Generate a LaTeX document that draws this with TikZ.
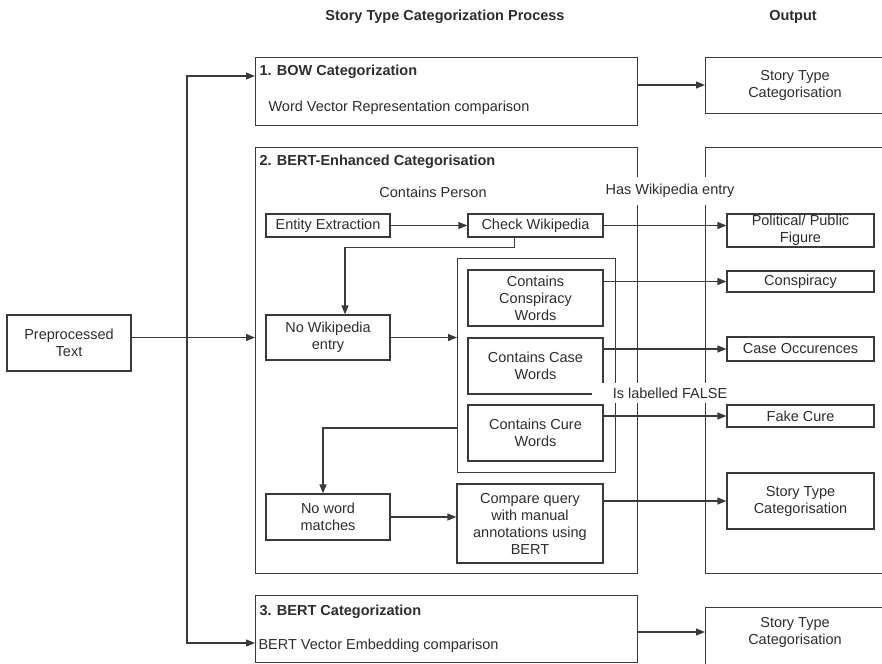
\documentclass[tikz,border=0pt]{standalone}
\usepackage{fontspec}
\setmainfont{Liberation Sans}
\usetikzlibrary{arrows.meta,positioning}
\definecolor{linegray}{RGB}{58,58,58}
\definecolor{textgray}{RGB}{45,45,45}

\begin{document}
\begin{tikzpicture}[
    x=1pt,y=-1pt,
    every node/.style={text=textgray,font=\fontsize{14.5}{17}\selectfont},
    cont/.style={draw=linegray,line width=1.2pt,inner sep=0pt,anchor=north west},
    box/.style={draw=linegray,line width=1.2pt,align=center,inner sep=1pt},
    ttl/.style={anchor=west,font=\fontsize{14.5}{17}\selectfont\bfseries},
    desc/.style={anchor=west},
    lbl/.style={fill=white,inner sep=0pt,minimum height=20pt},
    arr/.style={-{Triangle[length=9pt,width=7pt]},draw=linegray,line width=1.2pt},
  ]
    \useasboundingbox (0,0) rectangle (882,663);
    \clip (0,0) rectangle (882,663);

    \node[ttl,anchor=center](hdproc) at (445,17){Story Type Categorization Process};
    \node[ttl,anchor=center](hdout) at (793,17){Output};

    \node[box,minimum width=124pt,minimum height=56pt](pre) at (69,343){Preprocessed\\Text};

    \node[cont,minimum width=382pt,minimum height=68pt](bow) at (255,57){};
    \node[ttl](bowttl) at (256,72){1. BOW Categorization};
    \node[desc](bowdsc) at (265,108){Word Vector Representation comparison};
    \node[cont,minimum width=195pt,minimum height=56pt](bowoutbox) at (705,57){};
    \node[align=center](bowout) at (795,85){Story Type\\Categorisation};

    \node[cont,minimum width=382pt,minimum height=426pt](enh) at (255,147){};
    \node[ttl](enhttl) at (256,162){2. BERT-Enhanced Categorisation};
    \node[cont,minimum width=195pt,minimum height=426pt](outcol) at (705,147){};

    \node(lblperson) at (433,192){Contains Person};
    \node[box,minimum width=124pt,minimum height=23pt](ent) at (328,225.5){Entity Extraction};
    \node[box,minimum width=135pt,minimum height=23pt](chk) at (535.5,225.5){Check Wikipedia};
    \node[box,minimum width=147pt,minimum height=33pt](pol) at (800.5,230.5){Political/ Public\\Figure};
    \node[box,minimum width=124pt,minimum height=45pt](nowiki) at (328,337.5){No Wikipedia\\entry};
    \node[cont,minimum width=158pt,minimum height=214pt](grp) at (457,258){};
    \node[box,minimum width=135pt,minimum height=56pt](consp) at (535.5,298){Contains\\Conspiracy\\Words};
    \node[box,minimum width=135pt,minimum height=56pt](casew) at (535.5,366){Contains Case\\Words};
    \node[box,minimum width=135pt,minimum height=56pt](curew) at (535.5,433){Contains Cure\\Words};
    \node[box,minimum width=147pt,minimum height=21pt](conspo) at (800.5,281.5){Conspiracy};
    \node[box,minimum width=147pt,minimum height=24pt](caseo) at (800.5,349){Case Occurences};
    \node[box,minimum width=147pt,minimum height=22pt](fakeo) at (800.5,416){Fake Cure};
    \node[box,minimum width=124pt,minimum height=46pt](nomatch) at (328,517){No word\\matches};
    \node[box,minimum width=146pt,minimum height=79pt](cmp) at (530,523.5){Compare query\\with manual\\annotations using\\BERT};
    \node[box,minimum width=147pt,minimum height=56pt](stc) at (800.5,501){Story Type\\Categorisation};

    \node[cont,minimum width=382pt,minimum height=67pt](bert3) at (255,595){};
    \node[ttl](b3ttl) at (256,612){3. BERT Categorization};
    \node[desc](b3dsc) at (255,646){BERT Vector Embedding comparison};
    \node[cont,minimum width=195pt,minimum height=70pt](b3outbox) at (705,607){};
    \node[align=center](b3out) at (795,632){Story Type\\Categorisation};

    \coordinate(split) at (187,337.5);
    \coordinate(bowin) at ([yshift=-19pt]bow.north west);
    \coordinate(b3in) at ([yshift=-48pt]bert3.north west);
    \draw[arr](nowiki -| pre.east)--(nowiki -| enh.west);
    \draw[arr](split)|-(bowin);
    \draw[arr](split)|-(b3in);
    \draw[arr](bowout -| bow.east)--(bowout -| bowoutbox.west);
    \draw[arr](ent)--(chk);
    \draw[arr](chk)--(chk -| pol.west);
    \draw[arr]([xshift=-21pt]chk.south)--++(0,10)-|([xshift=17pt]nowiki.north);
    \draw[arr](nowiki)--(nowiki -| grp.west);
    \draw[arr](conspo -| consp.east)--(conspo);
    \draw[arr](caseo -| casew.east)--(caseo);
    \draw[arr](fakeo -| curew.east)--(fakeo);
    \draw[arr]([yshift=-170pt]grp.north west)-|([xshift=-5pt]nomatch.north);
    \draw[arr](nomatch)--(nomatch -| cmp.west);
    \draw[arr](stc -| cmp.east)--(stc);
    \draw[arr](b3out -| bert3.east)--(b3out -| b3outbox.west);

    \node[lbl,minimum width=150pt,minimum height=28pt](lblwiki) at (670,191){Has Wikipedia entry};
    \node[lbl,minimum width=156pt](lblfalse) at (670,393){Is labelled FALSE};
  \end{tikzpicture}
\end{document}
